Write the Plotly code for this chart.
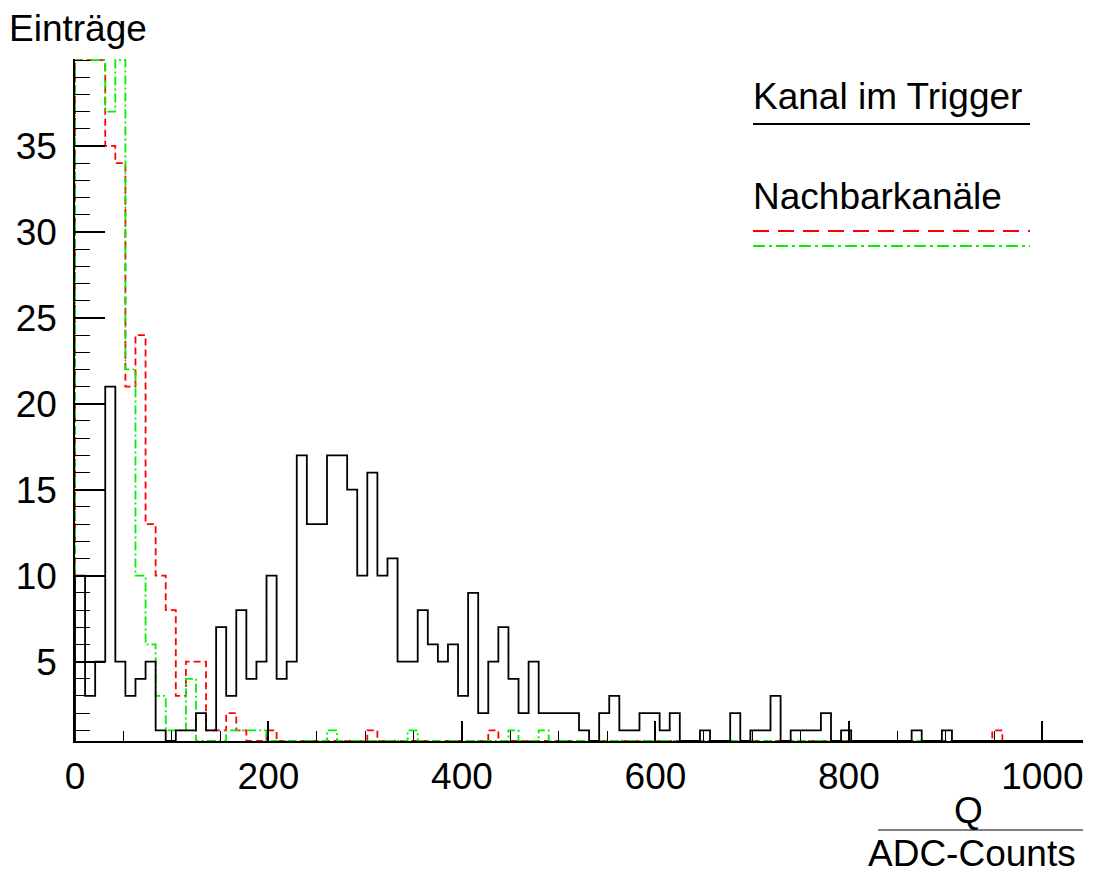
import numpy as np
import plotly.graph_objects as go

# Histogram binning: 100 bins on Q (ADC counts)
n_bins = 100
bin_width = 10.42
edges = np.arange(n_bins + 1) * bin_width

# Entries per bin, channel in the trigger
trigger = [10, 3, 5, 21, 5, 3, 4, 5, 1, 0,
           1, 1, 2, 1, 7, 3, 8, 4, 5, 10,
           4, 5, 17, 13, 13, 17, 17, 15, 10, 16,
           10, 11, 5, 5, 8, 6, 5, 6, 3, 9,
           2, 5, 7, 4, 2, 5, 2, 2, 2, 2,
           1, 0, 2, 3, 1, 1, 2, 2, 1, 2,
           0, 0, 1, 0, 0, 2, 0, 1, 1, 3,
           0, 1, 1, 1, 2, 0, 1, 0, 0, 0,
           0, 0, 0, 1, 0, 0, 1, 0, 0, 0,
           0, 0, 0, 0, 0, 0, 0, 0, 0, 0]

# Entries per bin, first neighbouring channel
neighbour_a = [48, 55, 46, 35, 34, 21, 24, 13, 10, 8,
               3, 5, 5, 1, 1, 2, 1, 0, 0, 1,
               0, 0, 0, 0, 0, 0, 0, 0, 0, 1,
               0, 0, 0, 0, 0, 0, 0, 0, 0, 0,
               0, 1, 0, 0, 0, 0, 0, 0, 0, 0,
               0, 0, 0, 0, 0, 0, 0, 0, 0, 0,
               0, 0, 0, 0, 0, 0, 0, 0, 0, 0,
               0, 0, 0, 0, 0, 0, 0, 0, 0, 0,
               0, 0, 0, 0, 0, 0, 0, 0, 0, 0,
               0, 1, 0, 0, 0, 0, 0, 0, 0, 0]

# Entries per bin, second neighbouring channel
neighbour_b = [52, 60, 44, 37, 41, 22, 10, 6, 3, 1,
               1, 4, 0, 0, 0, 1, 1, 1, 1, 0,
               0, 0, 0, 0, 0, 1, 0, 0, 0, 0,
               0, 0, 0, 1, 0, 0, 0, 0, 0, 0,
               0, 0, 0, 1, 0, 0, 1, 0, 0, 0,
               0, 0, 0, 0, 0, 0, 0, 0, 0, 0,
               0, 0, 0, 0, 0, 0, 0, 0, 0, 0,
               0, 0, 0, 0, 0, 0, 0, 0, 0, 0,
               0, 0, 0, 0, 0, 0, 0, 0, 0, 0,
               0, 0, 0, 0, 0, 0, 0, 0, 0, 0]

y_tick_vals = [5, 10, 15, 20, 25, 30, 35]
x_tick_vals = [0, 200, 400, 600, 800, 1000]

y_lo, y_hi = 0.38, 40.0
x_lo, x_hi = 0.0, float(edges[-1])

FONT = "Liberation Sans, Arial, Helvetica, sans-serif"
FS = 37
RED = "#ff0000"
GREEN = "#00f000"

# plot frame in pixels (figure 1093 x 873)
W, H = 1093, 873
L, R, T, B = 75, 1083, 59, 741


def px(x):
    return (x - L) / (R - L)


def py(y):
    return (B - y) / (B - T)


def outline(vals):
    """Step outline of a histogram, drawn inside the frame like ROOT does."""
    v = np.clip(np.asarray(vals, dtype=float), y_lo, y_hi)
    xs = [edges[0]]
    ys = [y_lo]
    for i, c in enumerate(v):
        xs += [edges[i], edges[i + 1]]
        ys += [c, c]
    xs.append(edges[-1])
    ys.append(y_lo)
    return xs, ys


fig = go.Figure()

for vals, color, dash in [
    (neighbour_a, RED, "7px,4px"),
    (neighbour_b, GREEN, "9px,3px,2px,3px"),
    (trigger, "#000000", "solid"),
]:
    xs, ys = outline(vals)
    fig.add_trace(go.Scatter(x=xs, y=ys, mode="lines",
                             line=dict(color=color, width=1.8, dash=dash),
                             showlegend=False, hoverinfo="skip"))

fig.update_layout(
    width=W, height=H,
    margin=dict(l=L, r=W - R, t=T, b=H - B, pad=0),
    paper_bgcolor="white", plot_bgcolor="white",
    font=dict(family=FONT, size=FS, color="black"),
    showlegend=False,
    xaxis=dict(
        range=[x_lo, x_hi], showgrid=False, zeroline=False,
        showline=True, linecolor="black", linewidth=1.5,
        tickmode="array", tickvals=x_tick_vals,
        ticktext=[str(v) for v in x_tick_vals],
        ticks="inside", ticklen=20, tickwidth=1.5, tickcolor="black",
        tickfont=dict(size=FS, family=FONT),
        ticklabelstandoff=2,
        minor=dict(ticks="inside", ticklen=10, tickwidth=1, tickcolor="black",
                   tickmode="linear", tick0=0, dtick=50, showgrid=False),
    ),
    yaxis=dict(
        # a hair of headroom so the clipped outlines at the top stay visible
        range=[y_lo, y_hi + 0.06], showgrid=False, zeroline=False,
        showline=True, linecolor="black", linewidth=1.5,
        tickmode="array", tickvals=y_tick_vals,
        ticktext=[str(v) for v in y_tick_vals],
        ticks="inside", ticklen=30, tickwidth=1.5, tickcolor="black",
        tickfont=dict(size=FS, family=FONT),
        ticklabelstandoff=9,
        minor=dict(ticks="inside", ticklen=15, tickwidth=1, tickcolor="black",
                   tickmode="linear", tick0=0, dtick=1, showgrid=False),
    ),
)

annotations = [
    dict(text="Einträge", x=px(7), y=py(28), xanchor="left", yanchor="middle"),
    dict(text="Kanal im Trigger", x=px(751), y=py(97), xanchor="left", yanchor="middle"),
    dict(text="Nachbarkanäle", x=px(751), y=py(196), xanchor="left", yanchor="middle"),
    dict(text="Q", x=px(968), y=py(811), xanchor="center", yanchor="middle"),
    dict(text="ADC-Counts", x=px(972), y=py(853), xanchor="center", yanchor="middle"),
]
for a in annotations:
    a.update(xref="paper", yref="paper", showarrow=False,
             font=dict(family=FONT, size=FS, color="black"))
fig.update_layout(annotations=annotations)

shapes = [
    # legend samples
    dict(x0=px(753), x1=px(1030), y0=py(124), y1=py(124),
         line=dict(color="black", width=2)),
    dict(x0=px(753), x1=px(1030), y0=py(231), y1=py(231),
         line=dict(color=RED, width=2, dash="16px,9px")),
    dict(x0=px(753), x1=px(1030), y0=py(246), y1=py(246),
         line=dict(color=GREEN, width=2, dash="12px,4px,3px,4px")),
    # fraction bar of the x-axis title
    dict(x0=px(878), x1=px(1083), y0=py(830), y1=py(830),
         line=dict(color="black", width=1.2)),
]
for s in shapes:
    s.update(type="line", xref="paper", yref="paper")
fig.update_layout(shapes=shapes)

fig.write_html("out.html")
